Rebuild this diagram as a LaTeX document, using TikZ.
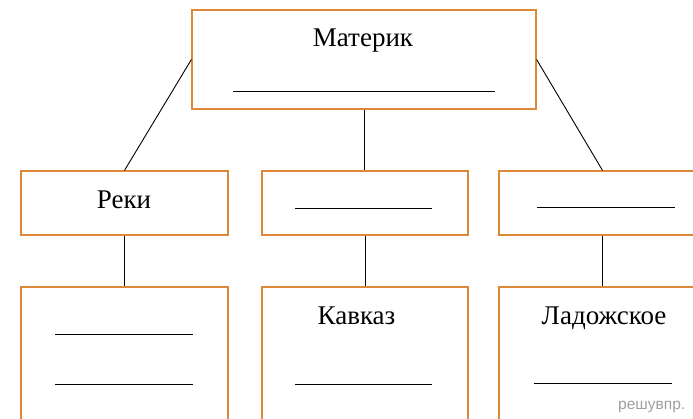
\documentclass[tikz,border=0pt]{standalone}
\usepackage{fontspec}
\setmainfont{Liberation Serif}
\newfontfamily\wmfont{Liberation Sans}
\definecolor{boxorange}{RGB}{222,136,58}
\definecolor{wmgray}{RGB}{160,160,160}
\begin{document}
\begin{tikzpicture}[x=1pt,y=-1pt,
  cbox/.style={draw=boxorange,line width=1.2pt,fill=white,inner sep=0pt,minimum width=#1},
  conn/.style={draw=black,line width=0.9pt},
  blank/.style={draw=black,line width=1pt},
  lbl/.style={anchor=base,font=\fontsize{27}{30}\selectfont,inner sep=0pt}]
\useasboundingbox (0,0) rectangle (693,418);
\clip (0,0) rectangle (693,418);
\fill[white] (0,0) rectangle (693,418);
% boxes
\node[cbox=344pt,minimum height=99pt] (top) at (364,59.5) {};
\node[cbox=207pt,minimum height=64pt] (m1) at (124.5,203) {};
\node[cbox=206pt,minimum height=64pt] (m2) at (365,203) {};
\node[cbox=207pt,minimum height=64pt] (m3) at (602.5,203) {};
\node[cbox=207pt,minimum height=153pt] (b1) at (124.5,363.5) {};
\node[cbox=206pt,minimum height=153pt] (b2) at (365,363.5) {};
\node[cbox=207pt,minimum height=153pt] (b3) at (602.5,363.5) {};
% connectors
\draw[conn] (top.west) -- (m1.north);
\draw[conn] (top.south) -- (top.south |- m2.north);
\draw[conn] (top.east) -- (m3.north);
\draw[conn] (m1.south) -- (b1.north);
\draw[conn] (m2.south) -- (b2.north);
\draw[conn] (m3.south) -- (b3.north);
% labels
\node[lbl] (t1) at (363,46) {Материк};
\node[lbl] (t2) at (124,208) {Реки};
\node[lbl] (t3) at (356.5,324) {Кавказ};
\node[lbl] (t4) at (604,324) {Ладожское};
% blank lines
\draw[blank] (233,91) -- (495,91);
\draw[blank] (295,208) -- (432,208);
\draw[blank] (537,207) -- (675,207);
\draw[blank] (55,334) -- (193,334);
\draw[blank] (55,384) -- (193,384);
\draw[blank] (295,384) -- (432,384);
\draw[blank] (534,383) -- (672,383);
% watermark
\node[anchor=base west,inner sep=0pt,text=wmgray,font=\wmfont\fontsize{15.5}{18}\selectfont] (wm) at (618,409) {решувпр.};
\end{tikzpicture}
\end{document}
